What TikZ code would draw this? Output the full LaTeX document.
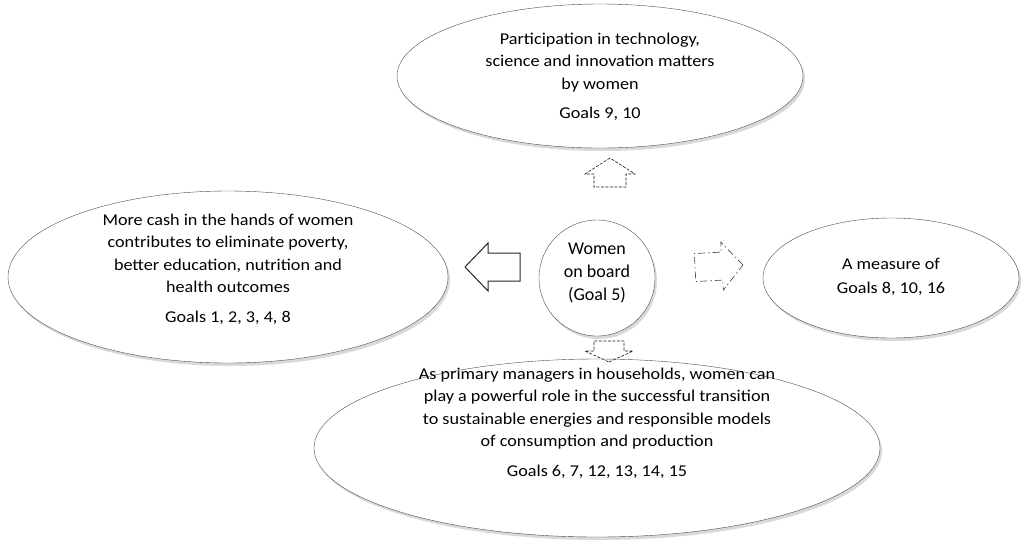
\documentclass[tikz,border=0pt]{standalone}
\usepackage{fontspec}
\setmainfont{Carlito}
\newfontfamily\widefont[FakeStretch=1.1]{Carlito}
\usetikzlibrary{shapes.geometric,shadows}

\tikzset{
  goalell/.style={ellipse, draw=black!70, fill=white, inner sep=0pt,
    drop shadow={shadow xshift=2pt, shadow yshift=-3pt, fill=black!25, opacity=.6}},
  goaltxt/.style={align=center, inner sep=0pt, font=\widefont\fontsize{16.5}{22.5}\selectfont},
  pics/blockarr/.style n args={4}{code={%
    % tip at the origin, pointing along +x
    \draw[pic actions] (0,0) -- (-#3,-#4) -- (-#3,-#2) -- (-#3-#1,-#2)
      -- (-#3-#1,#2) -- (-#3,#2) -- (-#3,#4) -- cycle;
  }}
}

\begin{document}
\begin{tikzpicture}[x=1pt,y=-1pt]
  \useasboundingbox (0,0) rectangle (1023,539);
  %%%%% ELLIPSES %%%%%
  \node[goalell, minimum width=406pt, minimum height=144pt] (tech) at (600,76) {};
  \node[goalell, minimum width=440pt, minimum height=172pt] (cash) at (228,277) {};
  \node[goalell, minimum width=256pt, minimum height=120pt] (measure) at (891,278) {};
  \node[goalell, minimum width=566pt, minimum height=178pt] (house) at (597,448) {};
  \node[goaltxt] (techT) at ([yshift=-1pt]tech.center)
    {Participation in technology,\\ science and innovation matters\\ by women\\[7pt] Goals 9, 10};
  \node[goaltxt] (cashT) at ([yshift=8pt]cash.center)
    {More cash in the hands of women\\ contributes to eliminate poverty,\\ better education, nutrition and\\ health outcomes\\[7pt] Goals 1, 2, 3, 4, 8};
  \node[goaltxt] (measureT) at ([yshift=1pt]measure.center)
    {A measure of\\[1pt] Goals 8, 10, 16};
  \node[goaltxt] (houseT) at ([yshift=25pt]house.center)
    {As primary managers in households, women can\\ play a powerful role in the successful transition\\ to sustainable energies and responsible models\\ of consumption and production\\[7pt] Goals 6, 7, 12, 13, 14, 15};
  %%%%% CENTRE %%%%%
  \node[circle, draw=black!70, fill=white, minimum size=116pt, inner sep=0pt,
    drop shadow={shadow xshift=2pt, shadow yshift=-3pt, fill=black!25, opacity=.6}] (board) at (597,278) {};
  \node[align=center, inner sep=0pt, font=\fontsize{18}{23}\selectfont] (boardT) at ([yshift=5pt]board.center)
    {Women\\ on board\\ (Goal 5)};
  %%%%% ARROWS %%%%%
  \pic[draw=black!90, dash pattern=on 3pt off 1.5pt, semithick, rotate=90] (arrN) at (610,158) {blockarr={13}{16}{16}{25}};
  \pic[draw=black!85, line width=1pt, rotate=180] (arrW) at (465,267) {blockarr={32}{14}{23}{24}};
  \pic[draw=black!75, dash pattern=on 7pt off 3pt on 1.5pt off 3pt, semithick, rotate=3] (arrE) at (743,265) {blockarr={27}{14}{21}{24}};
  \pic[draw=black!90, dash pattern=on 3pt off 1.5pt, semithick, rotate=-90] (arrS) at (609,362) {blockarr={10}{15}{11}{24}};
\end{tikzpicture}
\end{document}
